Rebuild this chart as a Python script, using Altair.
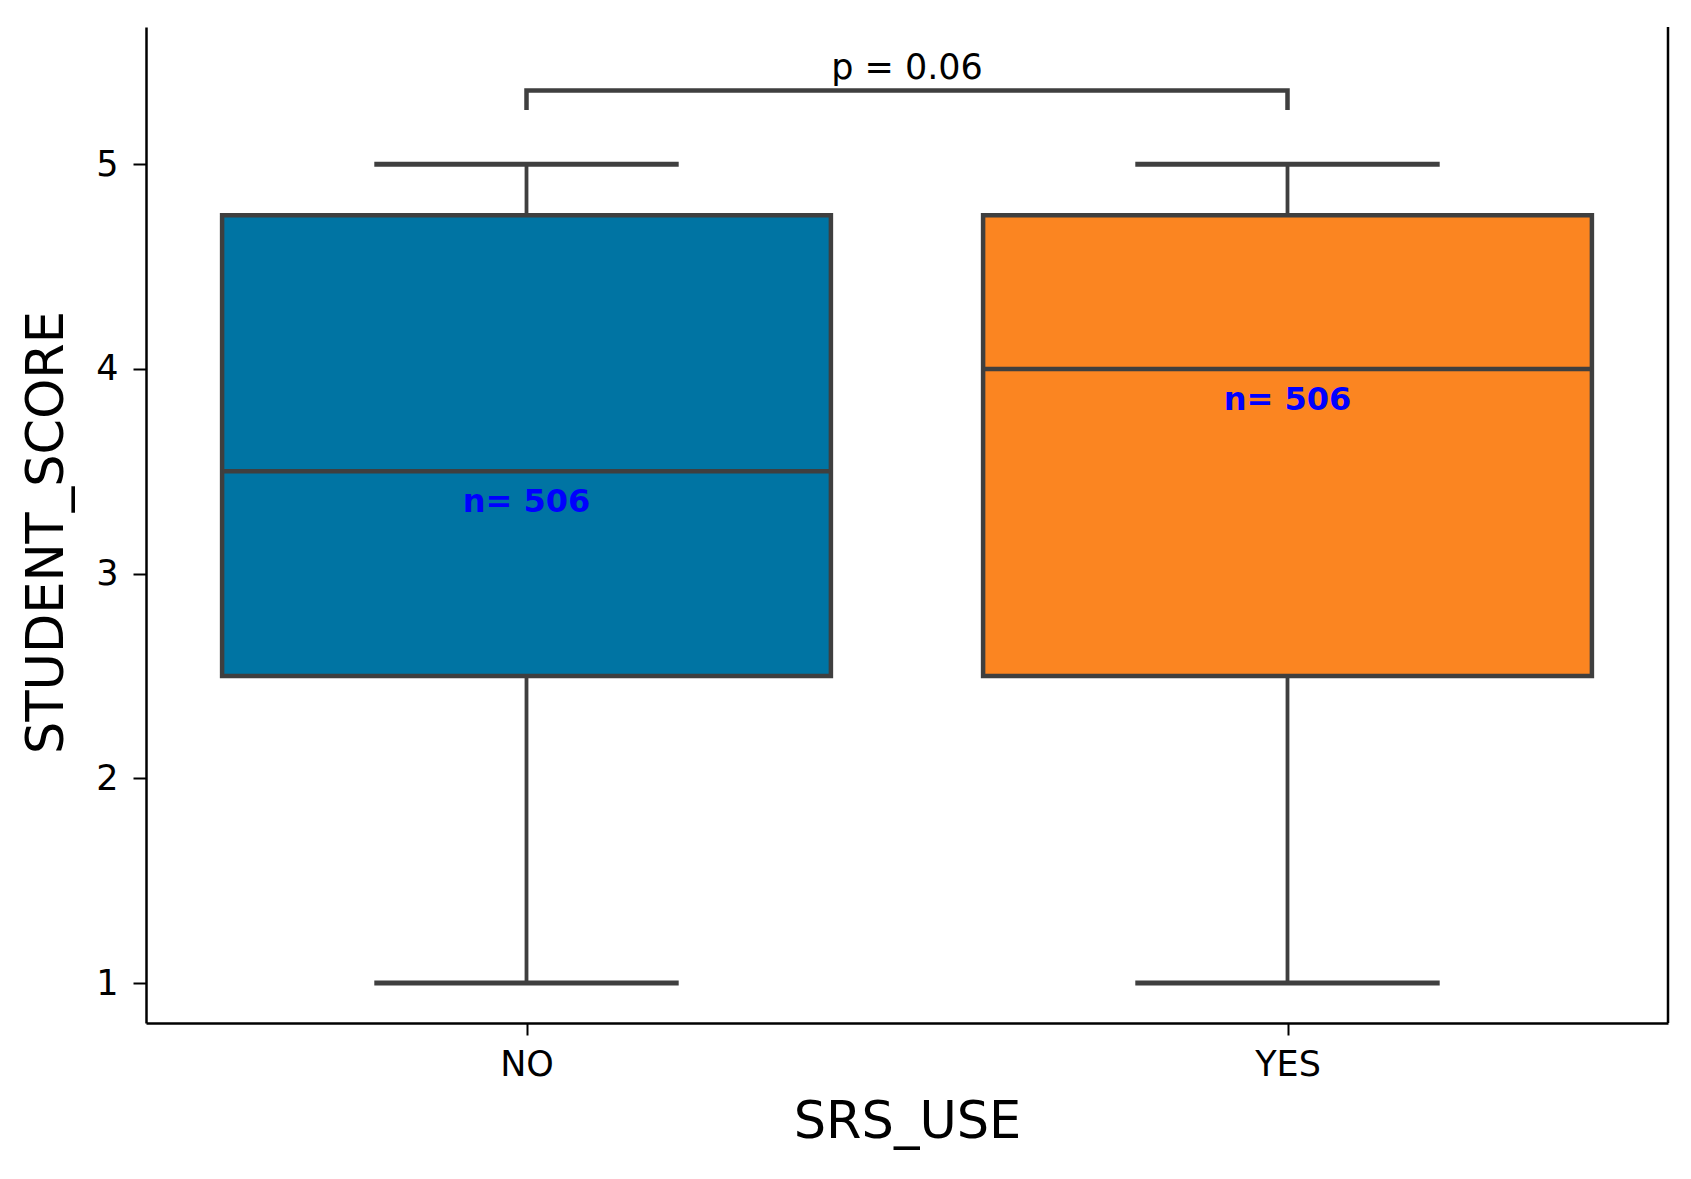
import altair as alt
import pandas as pd

# ---- data ----
categories = ["NO", "YES"]
q1 = [2.5, 2.5]
q3 = [4.75, 4.75]
medians = [3.5, 4.0]
whisker_low = [1.0, 1.0]
whisker_high = [5.0, 5.0]
counts = [506, 506]
box_colors = ["#0074a3", "#fb8521"]
p_label = "p = 0.06"
bracket_low = 5.265
bracket_high = 5.36
y_ticks = [1, 2, 3, 4, 5]
y_domain = [0.805, 5.67]
x_domain = [-0.5, 1.5]
box_half = 0.4
cap_half = 0.2
n_label_shift = 0.15

FONT = "DejaVu Sans"
EDGE = "#3f3f3f"

pos = list(range(len(categories)))
df = pd.DataFrame({
    "cat": categories,
    "pos": pos,
    "q1": q1,
    "q3": q3,
    "median": medians,
    "lo": whisker_low,
    "hi": whisker_high,
    "label": [f"n= {c}" for c in counts],
})
df["left"] = df["pos"] - box_half
df["right"] = df["pos"] + box_half
df["cap_left"] = df["pos"] - cap_half
df["cap_right"] = df["pos"] + cap_half
df["label_y"] = df["median"] - n_label_shift

bracket = pd.DataFrame({
    "x": [pos[0], pos[0], pos[1], pos[1]],
    "y": [bracket_low, bracket_high, bracket_high, bracket_low],
    "o": [0, 1, 2, 3],
})
p_df = pd.DataFrame({"x": [(pos[0] + pos[1]) / 2], "y": [bracket_high], "t": [p_label]})
spine_df = pd.DataFrame({"x": [x_domain[1]], "y": [y_domain[0]], "y2": [y_domain[1]]})

xscale = alt.Scale(domain=x_domain, nice=False, zero=False)
yscale = alt.Scale(domain=y_domain, nice=False, zero=False)

label_expr = "[" + ",".join(f"'{c}'" for c in categories) + "][datum.value]"

x_axis = alt.Axis(
    values=pos, labelExpr=label_expr, title="SRS_USE",
    labelFont=FONT, labelFontSize=35, labelColor="black", labelPadding=12,
    tickSize=12, tickWidth=2, tickColor="black",
    domainColor="black", domainWidth=2.5, grid=False,
    titleFont=FONT, titleFontSize=51, titleFontWeight="normal", titleColor="black",
    titleBaseline="alphabetic", titleY=114,
)
y_axis = alt.Axis(
    values=y_ticks, format="d", title="STUDENT_SCORE",
    labelFont=FONT, labelFontSize=35, labelColor="black", labelPadding=15,
    tickSize=13, tickWidth=2, tickColor="black",
    domainColor="black", domainWidth=2.5, grid=False,
    titleFont=FONT, titleFontSize=51, titleFontWeight="normal", titleColor="black",
    titleAngle=270, titleBaseline="alphabetic", titleAlign="center",
    titleX=-84, titleY=505,
)


def X(field):
    return alt.X(field, type="quantitative", scale=xscale, axis=x_axis)


def Y(field):
    return alt.Y(field, type="quantitative", scale=yscale, axis=y_axis)


base = alt.Chart(df)

boxes = base.mark_rect(stroke=EDGE, strokeWidth=4.5).encode(
    x=X("left"), x2="right",
    y=Y("q1"), y2="q3",
    fill=alt.Fill("cat:N", scale=alt.Scale(domain=categories, range=box_colors), legend=None),
)

med = base.mark_rule(color=EDGE, strokeWidth=4.5).encode(
    x=X("left"), x2="right", y=Y("median"),
)

whisk_lo = base.mark_rule(color=EDGE, strokeWidth=3.8).encode(
    x=X("pos"), y=Y("lo"), y2="q1",
)
whisk_hi = base.mark_rule(color=EDGE, strokeWidth=3.8).encode(
    x=X("pos"), y=Y("q3"), y2="hi",
)
cap_lo = base.mark_rule(color=EDGE, strokeWidth=5).encode(
    x=X("cap_left"), x2="cap_right", y=Y("lo"),
)
cap_hi = base.mark_rule(color=EDGE, strokeWidth=5).encode(
    x=X("cap_left"), x2="cap_right", y=Y("hi"),
)

n_text = base.mark_text(
    font=FONT, fontSize=32, fontWeight="bold", color="#0000ff",
    align="center", baseline="middle",
).encode(
    x=X("pos"), y=Y("label_y"), text="label:N",
)

bracket_line = alt.Chart(bracket).mark_line(
    color=EDGE, strokeWidth=4.5, strokeJoin="miter", strokeCap="butt"
).encode(
    x=X("x"), y=Y("y"), order="o:Q",
)

p_text = alt.Chart(p_df).mark_text(
    font=FONT, fontSize=35, color="black", align="center", baseline="bottom", dy=-4,
).encode(
    x=X("x"), y=Y("y"), text="t:N",
)

right_spine = alt.Chart(spine_df).mark_rule(color="black", strokeWidth=2.5).encode(
    x=X("x"), y=Y("y"), y2="y2",
)

chart = alt.layer(
    whisk_lo, whisk_hi, cap_lo, cap_hi, boxes, med, n_text, bracket_line, p_text, right_spine
).properties(
    width=1522, height=996,
    autosize=alt.AutoSizeParams(type="none"),
    padding={"left": 138, "top": 19, "right": 15, "bottom": 150},
    background="white",
).configure_view(stroke=None)

chart.save("out.html", embed_options={"renderer": "svg", "actions": False})
